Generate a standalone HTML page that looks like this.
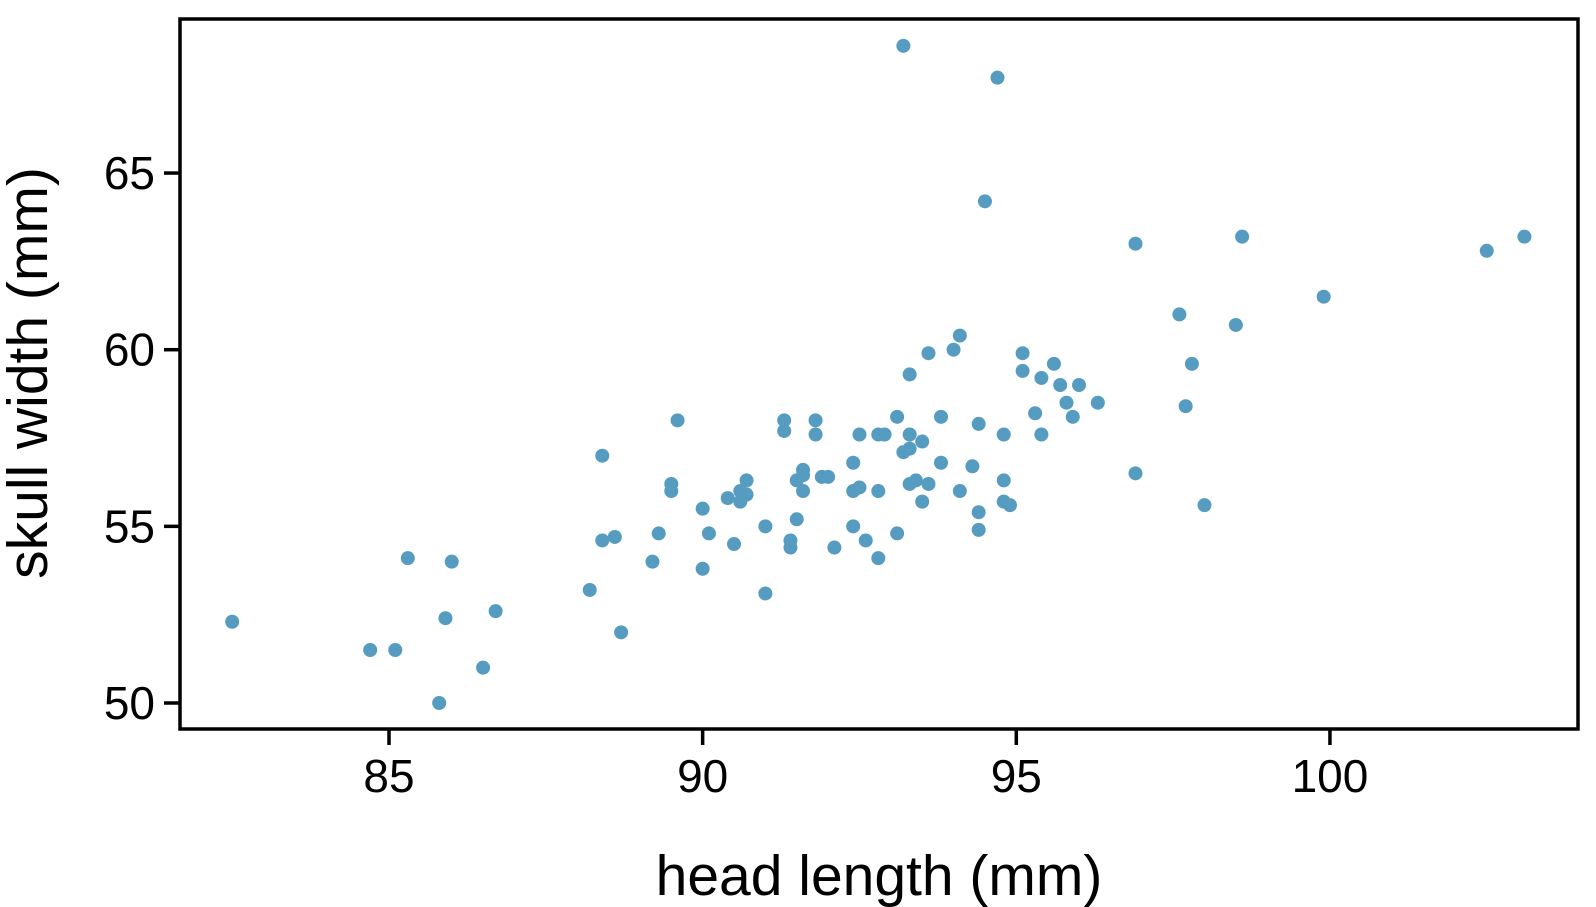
<!DOCTYPE html>
<html><head><meta charset="utf-8"><style>
html,body{margin:0;padding:0;background:#fff}
svg{display:block;font-family:"Liberation Sans",Arial,sans-serif}
</style></head><body>
<svg id="chart" width="1596" height="907">
<rect x="180" y="19" width="1398" height="710" fill="none" stroke="#000" stroke-width="3.5"/>
<g id="xaxis"></g>
<g id="yaxis"></g>
<g id="points"></g>
<text x="879" y="895" font-size="57" text-anchor="middle">head length (mm)</text>
<text transform="translate(47,373) rotate(-90)" font-size="57" text-anchor="middle">skull width (mm)</text>
</svg>
<script>
const xTicks=[85,90,95,100];
const yTicks=[50,55,60,65];
const headLength=[82.5,84.7,85.1,85.3,85.8,85.9,86.0,86.5,86.7,88.2,88.4,88.4,88.6,88.7,89.2,89.3,89.5,89.5,89.6,90.0,90.0,90.1,90.4,90.5,90.6,90.6,90.7,90.7,91.0,91.0,91.3,91.3,91.4,91.4,91.5,91.5,91.6,91.6,91.6,91.8,91.8,91.9,92.0,92.1,92.4,92.4,92.4,92.5,92.5,92.6,92.8,92.8,92.8,92.9,93.1,93.1,93.2,93.2,93.3,93.3,93.3,93.3,93.4,93.5,93.5,93.6,93.6,93.8,93.8,94.0,94.1,94.1,94.3,94.4,94.4,94.4,94.5,94.7,94.8,94.8,94.8,94.9,95.1,95.1,95.3,95.4,95.4,95.6,95.7,95.8,95.9,96.0,96.3,96.9,96.9,97.6,97.7,97.8,98.0,98.5,98.6,99.9,102.5,103.1];
const skullWidth=[52.3,51.5,51.5,54.1,50.0,52.4,54.0,51.0,52.6,53.2,57.0,54.6,54.7,52.0,54.0,54.8,56.2,56.0,58.0,55.5,53.8,54.8,55.8,54.5,55.7,56.0,56.3,55.9,55.0,53.1,58.0,57.7,54.6,54.4,55.2,56.3,56.6,56.45,56.0,58.0,57.6,56.4,56.4,54.4,56.8,56.0,55.0,57.6,56.1,54.6,57.6,56.0,54.1,57.6,58.1,54.8,57.1,68.6,59.3,57.6,57.2,56.2,56.3,57.4,55.7,59.9,56.2,58.1,56.8,60.0,60.4,56.0,56.7,57.9,55.4,54.9,64.2,67.7,57.6,56.3,55.7,55.6,59.9,59.4,58.2,59.2,57.6,59.6,59.0,58.5,58.1,59.0,58.5,63.0,56.5,61.0,58.4,59.6,55.6,60.7,63.2,61.5,62.8,63.2];
const NS='http://www.w3.org/2000/svg';
const sx=v=>389+(v-85)*62.73;
const sy=v=>703-(v-50)*35.33;
function mk(tag,attrs,parent){const e=document.createElementNS(NS,tag);for(const k in attrs)e.setAttribute(k,attrs[k]);parent.appendChild(e);return e;}
const xg=document.getElementById('xaxis'),yg=document.getElementById('yaxis'),pg=document.getElementById('points');
xTicks.forEach(t=>{
 const l=mk('line',{x1:sx(t),x2:sx(t),y1:729,y2:745,stroke:'#000','stroke-width':3.5},xg);
 
 
 const tx=mk('text',{x:sx(t),y:792,'font-size':46,'text-anchor':'middle'},xg);
 tx.textContent=t;
 
 
});
yTicks.forEach(t=>{
 const l=mk('line',{x1:164,x2:180,y1:sy(t),y2:sy(t),stroke:'#000','stroke-width':3.5},yg);
 
 
 const tx=mk('text',{x:155,y:sy(t)+16,'font-size':46,'text-anchor':'end'},yg);
 tx.textContent=t;
 
 
});
headLength.forEach((v,i)=>{
 const c=mk('circle',{cx:sx(v),cy:sy(skullWidth[i]),r:7,fill:'#569bc0'},pg);
 
 
});
</script>
</body></html>
